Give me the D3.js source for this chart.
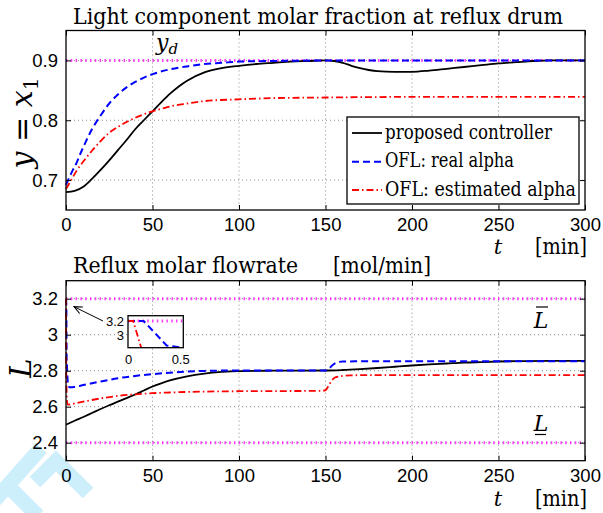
<!DOCTYPE html>
<html>
<head>
<meta charset="utf-8" />
<title>Reflux drum</title>
<style>
  body { margin: 0; background: #fff; }
  .tick text { font-family: "Liberation Sans", Arial, sans-serif; fill: #000; }
</style>
<script src="https://cdn.jsdelivr.net/npm/d3@7"></script>
</head>
<body>
<svg id="chart" width="603" height="513"></svg>
<script>
// ---- data ----
const xTicks = [0, 50, 100, 150, 200, 250, 300];
const yTicksTop = [0.7, 0.8, 0.9];
const yTicksBot = [2.4, 2.6, 2.8, 3.0, 3.2];
const yTickLabelsBot = ["2.4", "2.6", "2.8", "3", "3.2"];

const legendNames = ["proposed controller", "OFL: real alpha", "OFL: estimated alpha"];

// top panel: y = x1
const tTopProp = [0,5,10,15,20,25,30,35,40,45,50,55,60,65,70,80,90,100,110,120,130,140,150,155,160,165,170,175,180,190,200,210,220,230,240,250,260,270,280,290,300];
const yTopProp = [.680,.682,.689,.702,.717,.733,.750,.767,.785,.800,.815,.830,.844,.856,.866,.880,.887,.891,.894,.896,.898,.899,.900,.899,.896,.891,.887,.884,.882,.881,.881,.883,.886,.889,.892,.895,.897,.899,.900,.900,.900];
const tTopReal = [0,2,4,6,8,10,15,20,25,30,35,40,50,60,70,80,90,100,120,150,200,300];
const yTopReal = [.692,.705,.717,.728,.742,.755,.785,.808,.828,.843,.855,.864,.877,.885,.890,.894,.896,.898,.899,.900,.900,.900];
const tTopEst = [0,3,6,10,15,20,25,30,35,40,45,50,55,60,70,80,100,120,150,200,300];
const yTopEst = [.685,.700,.715,.731,.749,.765,.779,.789,.797,.804,.810,.815,.819,.823,.828,.832,.835,.837,.838,.839,.839];
const yDesired = [0.9];

// bottom panel: reflux L
const tBotProp = [0,5,10,15,20,25,30,35,40,45,50,55,60,70,80,90,100,120,150,160,170,180,190,200,210,220,230,240,250,260,280,300];
const yBotProp = [2.500,2.522,2.543,2.565,2.587,2.608,2.628,2.648,2.668,2.690,2.712,2.730,2.746,2.769,2.784,2.793,2.798,2.800,2.801,2.804,2.809,2.815,2.822,2.829,2.835,2.840,2.845,2.848,2.851,2.853,2.855,2.855];
const tBotReal = [0,0.15,0.37,0.5,0.8,1.2,2,5,10,20,30,40,50,60,70,80,100,150,152,154,156,158,160,170,200,300];
const yBotReal = [3.2,3.2,2.867,2.84,2.77,2.72,2.708,2.71,2.72,2.74,2.758,2.771,2.781,2.789,2.795,2.799,2.801,2.801,2.812,2.830,2.843,2.849,2.851,2.852,2.852,2.852];
const tBotEst = [0,0.05,0.13,0.3,0.6,1,5,10,20,30,40,50,60,80,100,148,150,152,154,156,160,165,170,300];
const yBotEst = [3.2,3.2,2.82,2.70,2.63,2.612,2.618,2.628,2.646,2.660,2.669,2.675,2.679,2.684,2.686,2.688,2.692,2.72,2.75,2.764,2.771,2.774,2.775,2.775];
const lBounds = [3.2, 2.4];

const zip = (t, v) => t.map((d, i) => [d, v[i]]);

// ---- styles ----
const SERIF = "'DejaVu Serif', serif";
const styles = [
  { color: "#000", dash: null, width: 1.8 },
  { color: "#0000ff", dash: "7,4", width: 2 },
  { color: "#ff0000", dash: "7,3,1.5,3", width: 1.8 }
];
const magenta = { color: "#ff3cff", dash: "1.5,3.3", width: 3 };

const svg = d3.select("#chart");
const left = 66, right = 585;
const x = d3.scaleLinear().domain([0, 300]).range([left, right]);

const serifText = (px, py, size, str) => svg.append("text")
  .attr("x", px).attr("y", py).attr("font-size", size)
  .attr("font-family", SERIF).attr("fill", "#000").text(str);

// watermark
const wm = svg.append("g").attr("fill", "none").attr("stroke", "#cdeefb").attr("stroke-width", 15);
wm.append("path").attr("d", "M-6,501L41,448");
wm.append("path").attr("d", "M12,490L38,516");
wm.append("path").attr("d", "M35,482L56,461L88,493");

function panel(y, yTicks, yLabels, series, refs, clipId) {
  const [y1, y0] = y.range();
  const g = svg.append("g");
  g.append("rect").attr("x", left).attr("y", y0).attr("width", right - left).attr("height", y1 - y0).attr("fill", "#fff");

  // grid
  g.selectAll(".gx").data(xTicks.slice(1, -1)).join("line")
    .attr("x1", d => x(d)).attr("x2", d => x(d)).attr("y1", y0).attr("y2", y1)
    .attr("stroke", "#8a8a8a").attr("stroke-dasharray", "1,3");
  g.selectAll(".gy").data(yTicks).join("line")
    .attr("x1", left).attr("x2", right).attr("y1", d => y(d)).attr("y2", d => y(d))
    .attr("stroke", "#8a8a8a").attr("stroke-dasharray", "1,3");

  svg.append("clipPath").attr("id", clipId).append("rect")
    .attr("x", left - 3).attr("y", y0).attr("width", right - left + 3).attr("height", y1 - y0);
  const plot = g.append("g").attr("clip-path", `url(#${clipId})`);

  refs.forEach(r => {
    plot.append("line").attr("x1", left).attr("x2", right).attr("y1", y(r)).attr("y2", y(r))
      .attr("stroke", magenta.color).attr("stroke-width", magenta.width).attr("stroke-dasharray", magenta.dash);
  });

  const line = d3.line().x(d => x(d[0])).y(d => y(d[1])).curve(d3.curveMonotoneX);
  series.forEach((s, i) => {
    plot.append("path").datum(s).attr("d", line).attr("fill", "none")
      .attr("stroke", styles[i].color).attr("stroke-width", styles[i].width)
      .attr("stroke-dasharray", styles[i].dash);
  });

  // inner ticks on all four sides
  const tk = (axis, tx, ty) => {
    const a = g.append("g").attr("transform", `translate(${tx},${ty})`).call(axis);
    a.select(".domain").remove();
    a.selectAll("line").attr("stroke", "#000");
  };
  tk(d3.axisBottom(x).tickValues(xTicks).tickSize(-5).tickFormat(""), 0, y1);
  tk(d3.axisTop(x).tickValues(xTicks).tickSize(-5).tickFormat(""), 0, y0);
  tk(d3.axisLeft(y).tickValues(yTicks).tickSize(-5).tickFormat(""), left, 0);
  tk(d3.axisRight(y).tickValues(yTicks).tickSize(-5).tickFormat(""), right, 0);

  // labels
  const ax = g.append("g").attr("transform", `translate(0,${y1})`)
    .call(d3.axisBottom(x).tickValues(xTicks).tickSize(0).tickPadding(8));
  ax.select(".domain").remove();
  ax.selectAll("text").attr("font-size", 18.5);
  const ay = g.append("g").attr("transform", `translate(${left},0)`)
    .call(d3.axisLeft(y).tickValues(yTicks).tickSize(0).tickPadding(8).tickFormat((d, i) => yLabels[i]));
  ay.select(".domain").remove();
  ay.selectAll("text").attr("font-size", 18.5);

  g.append("rect").attr("x", left).attr("y", y0).attr("width", right - left).attr("height", y1 - y0)
    .attr("fill", "none").attr("stroke", "#000").attr("stroke-width", 1.3);
  return g;
}

// ---- top panel ----
const yTop = d3.scaleLinear().domain([0.65, 0.95]).range([210, 30.5]);
panel(yTop, yTicksTop, ["0.7", "0.8", "0.9"],
  [zip(tTopProp, yTopProp), zip(tTopReal, yTopReal), zip(tTopEst, yTopEst)], yDesired, "clipTop");

// ---- bottom panel ----
const yBot = d3.scaleLinear().domain([2.3, 3.3]).range([460.7, 280.7]);
const botSeries = [zip(tBotProp, yBotProp), zip(tBotReal, yBotReal), zip(tBotEst, yBotEst)];
panel(yBot, yTicksBot, yTickLabelsBot, botSeries, lBounds, "clipBot");

// ---- titles and axis labels ----
serifText(73, 24, 22, "Light component molar fraction at reflux drum")
  .attr("textLength", 490).attr("lengthAdjust", "spacingAndGlyphs");
serifText(73, 273, 22, "Reflux molar flowrate")
  .attr("textLength", 225).attr("lengthAdjust", "spacingAndGlyphs");
serifText(333, 273, 22, "[mol/min]")
  .attr("textLength", 98).attr("lengthAdjust", "spacingAndGlyphs");

[254, 506].forEach(by => {
  serifText(498, by, 21, "t").attr("font-style", "italic").attr("text-anchor", "middle");
  serifText(535, by, 22, "[min]").attr("textLength", 52).attr("lengthAdjust", "spacingAndGlyphs");
});

const yl = serifText(0, 0, 30, null)
  .attr("transform", "translate(32,123) rotate(-90)").attr("text-anchor", "middle");
yl.append("tspan").attr("font-style", "italic").text("y");
yl.append("tspan").text(" = ");
yl.append("tspan").attr("font-style", "italic").text("x");
yl.append("tspan").attr("font-size", 20).attr("dy", 6).text("1");

serifText(0, 0, 29, "L").attr("font-style", "italic")
  .attr("transform", "translate(31,368) rotate(-90)").attr("text-anchor", "middle");

// y_d marker
const yd = serifText(156, 50, 22, null).attr("font-style", "italic");
yd.append("tspan").text("y");
yd.append("tspan").attr("font-size", 15).attr("dy", 4).text("d");

// L bar / L underline
serifText(541, 328, 22, "L").attr("font-style", "italic").attr("text-anchor", "middle");
svg.append("line").attr("x1", 536).attr("x2", 548).attr("y1", 307).attr("y2", 307).attr("stroke", "#000").attr("stroke-width", 1.2);
serifText(541, 431, 22, "L").attr("font-style", "italic").attr("text-anchor", "middle");
svg.append("line").attr("x1", 535).attr("x2", 546).attr("y1", 434.5).attr("y2", 434.5).attr("stroke", "#000").attr("stroke-width", 1.2);

// ---- legend ----
svg.append("rect").attr("x", 347).attr("y", 117).attr("width", 232).attr("height", 87)
  .attr("fill", "#fff").attr("stroke", "#000").attr("stroke-width", 1.3);
const rows = [133, 161.7, 190];
const lens = [167, 129, 191];
legendNames.forEach((name, i) => {
  svg.append("line").attr("x1", 352).attr("x2", 382).attr("y1", rows[i]).attr("y2", rows[i])
    .attr("stroke", styles[i].color).attr("stroke-width", styles[i].width).attr("stroke-dasharray", styles[i].dash);
  serifText(385, rows[i] + 5.5, 20, name).attr("textLength", lens[i]).attr("lengthAdjust", "spacingAndGlyphs");
});

// ---- inset (zoom on the first half minute) ----
const xIn = d3.scaleLinear().domain([0, 0.53]).range([128, 183.3]);
const yIn = d3.scaleLinear().domain([2.837, 3.272]).range([347.7, 315.7]);
const ins = svg.append("g");
ins.append("rect").attr("x", 128).attr("y", 315.7).attr("width", 55.3).attr("height", 32).attr("fill", "#fff");
svg.append("clipPath").attr("id", "clipIn").append("rect").attr("x", 128).attr("y", 315.7).attr("width", 55.3).attr("height", 32);
const pin = ins.append("g").attr("clip-path", "url(#clipIn)");
pin.append("line").attr("x1", 128).attr("x2", 183.3).attr("y1", yIn(lBounds[0])).attr("y2", yIn(lBounds[0]))
  .attr("stroke", magenta.color).attr("stroke-width", magenta.width).attr("stroke-dasharray", magenta.dash);
const lineIn = d3.line().x(d => xIn(d[0])).y(d => yIn(d[1]));
botSeries.forEach((s, i) => {
  pin.append("path").datum(s).attr("d", lineIn).attr("fill", "none")
    .attr("stroke", styles[i].color).attr("stroke-width", styles[i].width).attr("stroke-dasharray", styles[i].dash);
});
ins.append("rect").attr("x", 128).attr("y", 315.7).attr("width", 55.3).attr("height", 32)
  .attr("fill", "none").attr("stroke", "#000").attr("stroke-width", 1.3);
const iax = ins.append("g").attr("transform", "translate(0,347.7)")
  .call(d3.axisBottom(xIn).tickValues([0, 0.5]).tickFormat(d => d === 0 ? "0" : "0.5").tickSize(0).tickPadding(7));
iax.select(".domain").remove();
iax.selectAll("text").attr("font-size", 13);
const iay = ins.append("g").attr("transform", "translate(128,0)")
  .call(d3.axisLeft(yIn).tickValues([3, 3.2]).tickFormat(d => d === 3 ? "3" : "3.2").tickSize(0).tickPadding(4));
iay.select(".domain").remove();
iay.selectAll("text").attr("font-size", 13);

// arrow to the initial spike
svg.append("defs").append("marker").attr("id", "arr").attr("viewBox", "0 0 10 10")
  .attr("refX", 9).attr("refY", 5).attr("markerWidth", 9).attr("markerHeight", 9).attr("orient", "auto")
  .attr("markerUnits", "userSpaceOnUse")
  .append("path").attr("d", "M0,1L9,5L0,9").attr("fill", "none").attr("stroke", "#000").attr("stroke-width", 1.2);
svg.append("line").attr("x1", 103).attr("y1", 321).attr("x2", x(0) + 8).attr("y2", yBot(3.2) + 8)
  .attr("stroke", "#000").attr("stroke-width", 1).attr("marker-end", "url(#arr)");
</script>
</body>
</html>
